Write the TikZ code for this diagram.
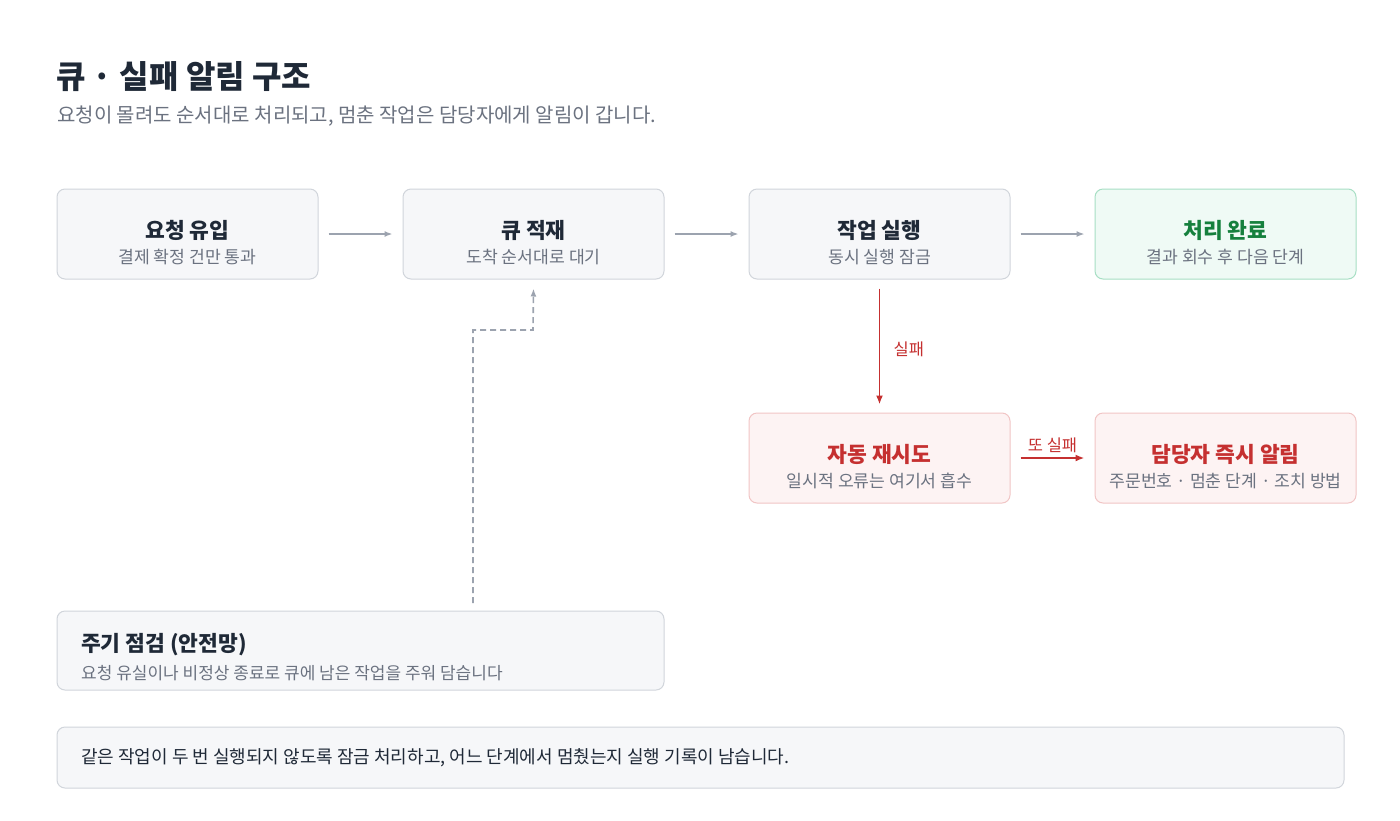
\documentclass[tikz,border=0pt]{standalone}
\usepackage{fontspec}
\setmainfont{Noto Sans CJK KR}
\usepackage{tikz}
\usepackage{xcolor}
\usetikzlibrary{arrows.meta}

\definecolor{inkdark}{HTML}{1F2937}
\definecolor{inkgray}{HTML}{6B7280}
\definecolor{boxfill}{HTML}{F6F7F9}
\definecolor{boxline}{HTML}{D1D5DB}
\definecolor{arrgray}{HTML}{9CA3AF}
\definecolor{okfill}{HTML}{EFFAF5}
\definecolor{okline}{HTML}{A7DFC4}
\definecolor{okink}{HTML}{15803D}
\definecolor{badfill}{HTML}{FDF3F3}
\definecolor{badline}{HTML}{F1C5C5}
\definecolor{badink}{HTML}{C53030}

\begin{document}
\begin{tikzpicture}[x=1pt,y=-1pt,
    box/.style={draw=boxline,fill=boxfill,line width=1pt,rounded corners=8pt,minimum width=261pt,minimum height=90pt,inner sep=0pt},
    okbox/.style={box,draw=okline,fill=okfill},
    badbox/.style={box,draw=badline,fill=badfill},
    ttl/.style={font=\fontsize{21.5}{26}\selectfont\bfseries,text=inkdark,inner sep=0pt},
    sub/.style={font=\fontsize{17.2}{21}\selectfont,text=inkgray,inner sep=0pt},
    flow/.style={draw=arrgray,line width=1.5pt,-{Latex[length=8pt,width=6pt]}},
    failflow/.style={draw=badink,line width=1.8pt,-{Latex[length=9pt,width=7pt]}}]
            \useasboundingbox[fill=white] (0,0) rectangle (1400,820);
            % heading
            \node[anchor=west,font=\fontsize{32}{38}\selectfont\bfseries,text=inkdark,inner sep=0pt] (head) at (56,77) {큐 · 실패 알림 구조};
            \node[anchor=west,font=\fontsize{20}{24}\selectfont,text=inkgray,inner sep=0pt] (headsub) at (57,116) {요청이 몰려도 순서대로 처리되고, 멈춘 작업은 담당자에게 알림이 갑니다.};

            % main row
            \node[box] (req) at (187.5,234) {};
            \node[ttl] (reqT) at ([yshift=4pt]req.center) {요청 유입};
            \node[sub] (reqS) at ([yshift=-23pt]req.center) {결제 확정 건만 통과};

            \node[box] (queue) at (533.5,234) {};
            \node[ttl] (queueT) at ([yshift=4pt]queue.center) {큐 적재};
            \node[sub] (queueS) at ([yshift=-23pt]queue.center) {도착 순서대로 대기};

            \node[box] (run) at (879.5,234) {};
            \node[ttl] (runT) at ([yshift=4pt]run.center) {작업 실행};
            \node[sub] (runS) at ([yshift=-23pt]run.center) {동시 실행 잠금};

            \node[okbox] (done) at (1225.5,234) {};
            \node[ttl,text=okink] (doneT) at ([yshift=4pt]done.center) {처리 완료};
            \node[sub] (doneS) at ([yshift=-23pt]done.center) {결과 회수 후 다음 단계};

            % failure row
            \node[badbox] (retry) at (879.5,458) {};
            \node[ttl,text=badink] (retryT) at ([yshift=4pt]retry.center) {자동 재시도};
            \node[sub] (retryS) at ([yshift=-23pt]retry.center) {일시적 오류는 여기서 흡수};

            \node[badbox] (alert) at (1225.5,458) {};
            \node[ttl,text=badink] (alertT) at ([yshift=4pt]alert.center) {담당자 즉시 알림};
            \node[sub] (alertS) at ([yshift=-23pt]alert.center) {주문번호 · 멈춘 단계 · 조치 방법};

            % sweep box
            \node[box,minimum width=607pt,minimum height=79pt] (sweep) at (360.5,650.5) {};
            \node[ttl,anchor=west] (sweepT) at (81,645) {주기 점검 (안전망)};
            \node[sub,anchor=west,font=\fontsize{17}{21}\selectfont] (sweepS) at (81,673) {요청 유실이나 비정상 종료로 큐에 남은 작업을 주워 담습니다};

            % note
            \node[box,minimum width=1287pt,minimum height=61pt] (note) at (700.5,757.5) {};
            \node[anchor=west,font=\fontsize{18}{22}\selectfont,text=inkdark,inner sep=0pt] (noteT) at (81,758) {같은 작업이 두 번 실행되지 않도록 잠금 처리하고, 어느 단계에서 멈췄는지 실행 기록이 남습니다.};

            % connectors
            \draw[flow] ([xshift=10pt]req.east) -- ([xshift=-10pt]queue.west);
            \draw[flow] ([xshift=10pt]queue.east) -- ([xshift=-10pt]run.west);
            \draw[flow] ([xshift=10pt]run.east) -- ([xshift=-10pt]done.west);
            \draw[failflow] ([yshift=-9pt]run.south) -- node[right=10pt,yshift=-3pt,font=\fontsize{16.5}{20}\selectfont,text=badink] (failL) {실패} ([yshift=8pt]retry.north);
            \draw[failflow] ([xshift=10pt]retry.east) -- node[above=1pt,font=\fontsize{16.5}{20}\selectfont,text=badink] (againL) {또 실패} ([xshift=-10pt]alert.west);
            \coordinate (sweepTop) at (473,603);
            \draw[draw=arrgray,line width=1.6pt,dash pattern=on 6pt off 4pt,-{Latex[length=8pt,width=6pt]}] (sweepTop) |- (533,330) -- ([yshift=-9pt]queue.south);
\end{tikzpicture}
\end{document}
